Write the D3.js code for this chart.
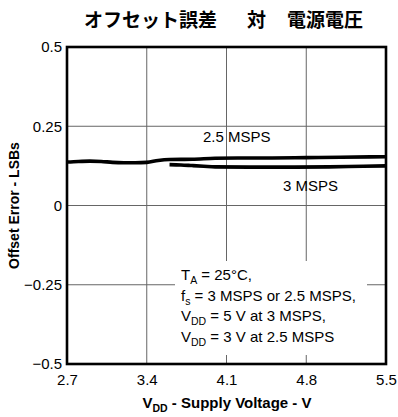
<!DOCTYPE html>
<html><head><meta charset="utf-8">
<script src="https://cdn.jsdelivr.net/npm/d3@7"></script>
<style>body{margin:0;background:#fff}svg{display:block}</style>
</head><body>
<script>
const xTicks = [2.7, 3.4, 4.1, 4.8, 5.5];
const yTicks = [0.5, 0.25, 0, -0.25, -0.5];
const yTickLabels = ["0.5", "0.25", "0", "\u22120.25", "\u22120.5"];
const s25x = [2.7, 2.8, 2.9, 3.0, 3.1, 3.2, 3.3, 3.4, 3.5, 3.6, 3.8, 4.0, 4.2, 4.5, 4.8, 5.1, 5.5];
const s25y = [0.137, 0.139, 0.140, 0.139, 0.136, 0.135, 0.135, 0.136, 0.142, 0.145, 0.146, 0.149, 0.150, 0.150, 0.151, 0.152, 0.154];
const s3x = [3.6, 3.7, 3.8, 3.9, 4.0, 4.3, 4.7, 5.0, 5.3, 5.5];
const s3y = [0.129, 0.128, 0.126, 0.124, 0.122, 0.121, 0.121, 0.122, 0.124, 0.125];

const W = 398, H = 417;
const m = {l: 67, r: 12, t: 47, b: 53};
const svg = d3.select("body").append("svg").attr("width", W).attr("height", H);
const x = d3.scaleLinear().domain([2.7, 5.5]).range([m.l, W - m.r]);
const y = d3.scaleLinear().domain([-0.5, 0.5]).range([H - m.b, m.t]);
const font = "'Liberation Sans', Arial, sans-serif";

// grid
svg.append("g").selectAll("line.v").data(xTicks.slice(1, -1)).join("line")
  .attr("x1", d => x(d)).attr("x2", d => x(d)).attr("y1", y(0.5)).attr("y2", y(-0.5))
  .attr("stroke", "#666").attr("stroke-width", 1);
svg.append("g").selectAll("line.h").data(yTicks.slice(1, -1)).join("line")
  .attr("x1", x(2.7)).attr("x2", x(5.5)).attr("y1", d => y(d)).attr("y2", d => y(d))
  .attr("stroke", "#666").attr("stroke-width", 1);

// annotation box (white, covers grid)
svg.append("rect").attr("x", 175).attr("y", 261).attr("width", 192).attr("height", 94).attr("fill", "#fff");

// lines
const line = d3.line().x(d => x(d[0])).y(d => y(d[1])).curve(d3.curveMonotoneX);
svg.append("path").datum(s25x.map((v, i) => [v, s25y[i]])).attr("d", line)
  .attr("fill", "none").attr("stroke", "#000").attr("stroke-width", 3.6);
svg.append("path").datum(s3x.map((v, i) => [v, s3y[i]])).attr("d", line)
  .attr("fill", "none").attr("stroke", "#000").attr("stroke-width", 3.6);

// frame
svg.append("rect").attr("x", x(2.7)).attr("y", y(0.5)).attr("width", x(5.5) - x(2.7)).attr("height", y(-0.5) - y(0.5))
  .attr("fill", "none").attr("stroke", "#000").attr("stroke-width", 2.6);

// axes
const xAxis = d3.axisBottom(x).tickValues(xTicks).tickSize(0).tickPadding(10).tickFormat(d3.format(".1f"));
const gx = svg.append("g").attr("transform", `translate(0,${y(-0.5)})`).call(xAxis);
gx.select(".domain").remove();
gx.selectAll("text").attr("font-family", font).attr("font-size", 15).attr("fill", "#000");
const yAxis = d3.axisLeft(y).tickValues(yTicks).tickSize(0).tickPadding(5).tickFormat((d, i) => yTickLabels[i]);
const gy = svg.append("g").attr("transform", `translate(${x(2.7)},0)`).call(yAxis);
gy.select(".domain").remove();
gy.selectAll("text").attr("font-family", font).attr("font-size", 15).attr("fill", "#000");

// title
const tf = "'Noto Sans CJK JP', sans-serif";
[["オフセット誤差", 84], ["対", 247], ["電源電圧", 287]].forEach(([s, px]) => {
  svg.append("text").attr("x", px).attr("y", 27).attr("font-family", tf).attr("font-weight", "bold")
    .attr("font-size", 19).text(s);
});

// axis titles
const xl = svg.append("text").attr("x", 227).attr("y", 408).attr("text-anchor", "middle")
  .attr("font-family", font).attr("font-weight", "bold").attr("font-size", 15);
xl.append("tspan").text("V");
xl.append("tspan").attr("font-size", 10.5).attr("dy", 4).text("DD");
xl.append("tspan").attr("dy", -4).text(" - Supply Voltage - V");

svg.append("text").attr("transform", `translate(19,${y(0)}) rotate(-90)`).attr("text-anchor", "middle")
  .attr("font-family", font).attr("font-weight", "bold").attr("font-size", 14)
  .text("Offset Error - LSBs");

// series labels
svg.append("text").attr("x", 203).attr("y", 142).attr("font-family", font).attr("font-size", 15).text("2.5 MSPS");
svg.append("text").attr("x", 283).attr("y", 191).attr("font-family", font).attr("font-size", 15).text("3 MSPS");

// annotation
const ann = [
  ["T", "A", " = 25°C,"],
  ["f", "s", " = 3 MSPS or 2.5 MSPS,"],
  ["V", "DD", " = 5 V at 3 MSPS,"],
  ["V", "DD", " = 3 V at 2.5 MSPS"]
];
ann.forEach((a, i) => {
  const t = svg.append("text").attr("x", 181).attr("y", 280 + i * 20.7)
    .attr("font-family", font).attr("font-size", 15);
  t.append("tspan").text(a[0]);
  t.append("tspan").attr("font-size", 10.5).attr("dy", 4).text(a[1]);
  t.append("tspan").attr("dy", -4).text(a[2]);
});
</script>
</body></html>
